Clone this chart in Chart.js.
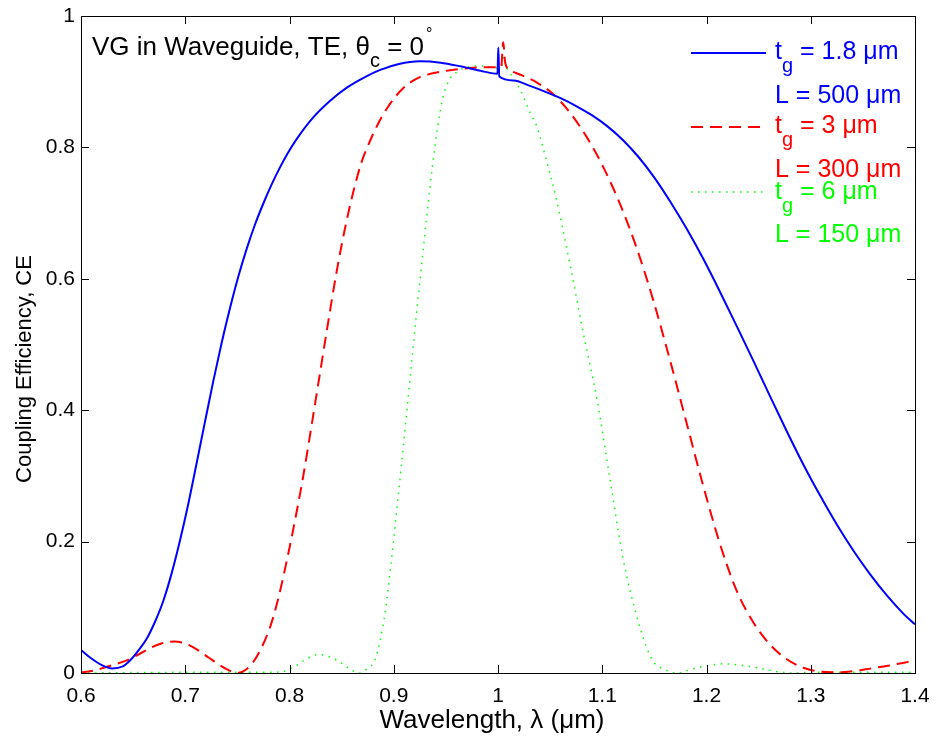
<!DOCTYPE html>
<html>
<head>
<meta charset="utf-8">
<script src="https://cdn.jsdelivr.net/npm/chart.js@4.4.1/dist/chart.umd.min.js"></script>
<style>
  html, body { margin: 0; padding: 0; background: #fff; }
  #wrap { width: 936px; height: 740px; position: relative; }
</style>
</head>
<body>
<div id="wrap"><canvas id="ceChart"></canvas></div>
<script>
// tick positions
var xTicks = [0.6, 0.7, 0.8, 0.9, 1.0, 1.1, 1.2, 1.3, 1.4];
var yTicks = [0, 0.2, 0.4, 0.6, 0.8, 1];

// t_g = 1.8 um, L = 500 um
var lamBlue = [0.600, 0.610, 0.620, 0.630, 0.640, 0.647, 0.655, 0.663, 0.671, 0.679, 0.687, 0.695,
  0.703, 0.711, 0.719, 0.727, 0.735, 0.743, 0.751, 0.759, 0.767, 0.775, 0.783, 0.791, 0.799, 0.807,
  0.823, 0.839, 0.855, 0.871, 0.887, 0.905, 0.925, 0.945, 0.965, 0.985, 0.9995, 1.0003, 1.0012, 1.015,
  1.030, 1.045, 1.060, 1.075, 1.090, 1.105, 1.120, 1.135, 1.150, 1.165, 1.181, 1.197, 1.213, 1.229,
  1.245, 1.261, 1.277, 1.293, 1.309, 1.325, 1.341, 1.357, 1.373, 1.389, 1.400];
var ceBlue = [0.035, 0.022, 0.012, 0.007, 0.010, 0.019, 0.034, 0.052, 0.078, 0.110, 0.152, 0.202,
  0.258, 0.320, 0.383, 0.445, 0.503, 0.556, 0.604, 0.646, 0.683, 0.715, 0.744, 0.770, 0.793, 0.813,
  0.846, 0.871, 0.891, 0.906, 0.918, 0.927, 0.931, 0.929, 0.923, 0.916, 0.912, 0.952, 0.908, 0.902,
  0.894, 0.885, 0.875, 0.863, 0.849, 0.832, 0.811, 0.785, 0.754, 0.718, 0.676, 0.630, 0.580, 0.528,
  0.475, 0.421, 0.368, 0.317, 0.270, 0.226, 0.186, 0.150, 0.118, 0.090, 0.074];

// t_g = 3 um, L = 300 um
var lamRed = [0.600, 0.610, 0.620, 0.632, 0.642, 0.655, 0.665, 0.677, 0.689, 0.700, 0.711, 0.722,
  0.733, 0.742, 0.750, 0.758, 0.765, 0.773, 0.781, 0.789, 0.797, 0.805, 0.813, 0.821, 0.829, 0.837,
  0.845, 0.853, 0.861, 0.869, 0.877, 0.885, 0.893, 0.901, 0.909, 0.917, 0.925, 0.941, 0.957, 0.973,
  0.990, 1.003, 1.005, 1.007, 1.013, 1.021, 1.037, 1.053, 1.069, 1.085, 1.101, 1.117, 1.133, 1.149,
  1.165, 1.181, 1.197, 1.213, 1.229, 1.245, 1.261, 1.277, 1.293, 1.309, 1.325, 1.342, 1.358, 1.374,
  1.387, 1.400];
var ceRed = [0.001, 0.003, 0.007, 0.013, 0.018, 0.028, 0.037, 0.045, 0.048, 0.045, 0.036, 0.024,
  0.012, 0.004, 0.000, 0.005, 0.016, 0.038, 0.068, 0.112, 0.168, 0.230, 0.298, 0.375, 0.454, 0.533,
  0.609, 0.675, 0.731, 0.777, 0.809, 0.836, 0.858, 0.876, 0.890, 0.900, 0.907, 0.914, 0.918, 0.921,
  0.922, 0.922, 0.960, 0.928, 0.916, 0.911, 0.899, 0.881, 0.853, 0.816, 0.770, 0.714, 0.647, 0.567,
  0.476, 0.380, 0.284, 0.196, 0.125, 0.077, 0.043, 0.021, 0.008, 0.002, 0.001, 0.003, 0.007, 0.011,
  0.015, 0.019];

// t_g = 6 um, L = 150 um
var lamGreen = [0.600, 0.700, 0.780, 0.793, 0.805, 0.815, 0.827, 0.838, 0.850, 0.860, 0.867, 0.874,
  0.882, 0.887, 0.892, 0.897, 0.902, 0.907, 0.912, 0.917, 0.922, 0.927, 0.932, 0.937, 0.942, 0.947,
  0.953, 0.960, 0.973, 0.985, 0.998, 1.004, 1.006, 1.008, 1.015, 1.021, 1.031, 1.037, 1.047, 1.056,
  1.069, 1.082, 1.095, 1.107, 1.120, 1.133, 1.143, 1.150, 1.156, 1.165, 1.172, 1.180, 1.188, 1.200,
  1.217, 1.232, 1.245, 1.258, 1.268, 1.284, 1.300, 1.400];
var ceGreen = [0.000, 0.001, 0.001, 0.002, 0.010, 0.020, 0.028, 0.025, 0.015, 0.004, 0.000, 0.006,
  0.020, 0.050, 0.095, 0.160, 0.235, 0.310, 0.390, 0.470, 0.550, 0.625, 0.700, 0.770, 0.830, 0.875,
  0.902, 0.914, 0.923, 0.924, 0.921, 0.925, 0.938, 0.924, 0.905, 0.889, 0.852, 0.833, 0.777, 0.721,
  0.622, 0.516, 0.416, 0.299, 0.174, 0.087, 0.037, 0.015, 0.008, 0.002, 0.000, 0.003, 0.007, 0.011,
  0.014, 0.012, 0.009, 0.005, 0.002, 0.000, 0.001, 0.001];

var xLabel = 'Wavelength, \u03bb (\u03bcm)';
var yLabel = 'Coupling Efficiency, CE';

var FONT = "'Liberation Sans', Arial, Helvetica, sans-serif";

function toPoints(xs, ys) {
  return xs.map(function (x, i) { return { x: x, y: ys[i] }; });
}

// draws the axes box, inward ticks, axis labels, the text label and the legend (matlab style)
var matlabBits = {
  id: 'matlabBits',
  afterDraw: function (chart) {
    var ctx = chart.ctx;
    var a = chart.chartArea;
    var xs = chart.scales.x, ys = chart.scales.y;
    var tl = 8;

    ctx.save();
    ctx.strokeStyle = '#000';
    ctx.lineWidth = 1;
    ctx.beginPath();
    xTicks.forEach(function (v) {
      var px = Math.round(xs.getPixelForValue(v)) + 0.5;
      ctx.moveTo(px, a.bottom); ctx.lineTo(px, a.bottom - tl);
      ctx.moveTo(px, a.top); ctx.lineTo(px, a.top + tl);
    });
    yTicks.forEach(function (v) {
      var py = Math.round(ys.getPixelForValue(v)) + 0.5;
      ctx.moveTo(a.left, py); ctx.lineTo(a.left + tl, py);
      ctx.moveTo(a.right, py); ctx.lineTo(a.right - tl, py);
    });
    ctx.stroke();
    ctx.strokeRect(Math.round(a.left) + 0.5, Math.round(a.top) + 0.5,
      Math.round(a.right - a.left), Math.round(a.bottom - a.top));

    ctx.fillStyle = '#000';
    ctx.textBaseline = 'alphabetic';

    // axis labels
    ctx.textAlign = 'center';
    ctx.font = '26px ' + FONT;
    ctx.fillText(xLabel, 492, 728);
    ctx.save();
    ctx.translate(31, 369);
    ctx.rotate(-Math.PI / 2);
    ctx.font = '22px ' + FONT;
    ctx.fillText(yLabel, 0, 0);
    ctx.restore();

    // annotation
    ctx.textAlign = 'left';
    var x = 92;
    ctx.font = '26px ' + FONT;
    var s1 = 'VG in Waveguide, TE, \u03b8';
    ctx.fillText(s1, x, 55);
    x += ctx.measureText(s1).width;
    ctx.font = '20px ' + FONT;
    ctx.fillText('c', x, 67);
    x += ctx.measureText('c').width;
    ctx.font = '26px ' + FONT;
    var s2 = ' = 0';
    ctx.fillText(s2, x, 55);
    x += ctx.measureText(s2).width + 2;
    ctx.font = '16px ' + FONT;
    ctx.fillText('\u00b0', x, 39);

    // legend
    var entries = [
      { ds: 0, ly: 53, tg: '1.8', L: '500', y1: 59, y2: 103 },
      { ds: 1, ly: 127, tg: '3', L: '300', y1: 133, y2: 177 },
      { ds: 2, ly: 192, tg: '6', L: '150', y1: 199, y2: 242 }
    ];
    entries.forEach(function (e) {
      var d = chart.data.datasets[e.ds];
      ctx.save();
      ctx.strokeStyle = d.borderColor;
      ctx.lineWidth = d.borderWidth;
      ctx.setLineDash(d.borderDash || []);
      ctx.beginPath();
      ctx.moveTo(691, e.ly); ctx.lineTo(766, e.ly);
      ctx.stroke();
      ctx.restore();

      ctx.fillStyle = d.borderColor;
      var tx = 775;
      ctx.font = '25px ' + FONT;
      ctx.fillText('t', tx, e.y1);
      tx += ctx.measureText('t').width;
      ctx.font = '20px ' + FONT;
      ctx.fillText('g', tx, e.y1 + 13);
      tx += ctx.measureText('g').width;
      ctx.font = '25px ' + FONT;
      ctx.fillText(' = ' + e.tg + ' \u03bcm', tx, e.y1);
      ctx.fillText('L = ' + e.L + ' \u03bcm', 775, e.y2);
    });
    ctx.restore();
  }
};

var ctx = document.getElementById('ceChart').getContext('2d');
var chart = new Chart(ctx, {
  type: 'line',
  data: {
    datasets: [{
      label: 't_g = 1.8 \u03bcm, L = 500 \u03bcm',
      data: toPoints(lamBlue, ceBlue),
      borderColor: '#0000ff',
      borderWidth: 2
    }, {
      label: 't_g = 3 \u03bcm, L = 300 \u03bcm',
      data: toPoints(lamRed, ceRed),
      borderColor: '#ff0000',
      borderWidth: 2,
      borderDash: [12, 7]
    }, {
      label: 't_g = 6 \u03bcm, L = 150 \u03bcm',
      data: toPoints(lamGreen, ceGreen),
      borderColor: '#00ff00',
      borderWidth: 1.5,
      borderDash: [1.5, 5.5]
    }]
  },
  options: {
    responsive: true,
    maintainAspectRatio: false,
    animation: false,
    devicePixelRatio: 1,
    layout: { padding: { top: 16, right: 21, left: 0, bottom: 0 } },
    elements: {
      point: { radius: 0 },
      line: { cubicInterpolationMode: 'monotone', fill: false }
    },
    plugins: {
      legend: { display: false },
      tooltip: { enabled: false }
    },
    scales: {
      x: {
        type: 'linear',
        min: 0.6,
        max: 1.4,
        afterBuildTicks: function (scale) {
          scale.ticks = xTicks.map(function (v) { return { value: v }; });
        },
        afterFit: function (scale) {
          scale.height = 67;
          scale.paddingLeft = 0;
          scale.paddingRight = 0;
        },
        grid: { display: false, drawTicks: false },
        border: { display: false },
        ticks: {
          autoSkip: false,
          maxRotation: 0,
          padding: 11,
          color: '#000',
          font: { family: FONT, size: 21 },
          callback: function (v) { return String(Math.round(v * 10) / 10); }
        }
      },
      y: {
        min: 0,
        max: 1,
        afterBuildTicks: function (scale) {
          scale.ticks = yTicks.map(function (v) { return { value: v }; });
        },
        afterFit: function (scale) {
          scale.width = 81;
          scale.paddingTop = 0;
          scale.paddingBottom = 0;
        },
        grid: { display: false, drawTicks: false },
        border: { display: false },
        ticks: {
          padding: 6,
          color: '#000',
          font: { family: FONT, size: 21 },
          callback: function (v) { return String(Math.round(v * 10) / 10); }
        }
      }
    }
  },
  plugins: [matlabBits]
});
</script>
</body>
</html>
